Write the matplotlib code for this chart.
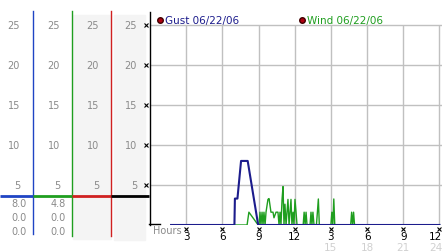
import matplotlib
matplotlib.use("Agg")
import matplotlib.pyplot as plt
import matplotlib.transforms as mtrans

# gust and wind, hours since midnight
gust_hr = [1.75, 7.0, 7.04, 7.25, 7.55, 8.1, 8.97, 24.0]
gust_val = [0, 0, 3.3, 3.3, 8.0, 8.0, 0, 0]

wind_hr = [1.75, 8.05, 8.2, 8.97, 9.04, 9.12, 9.2, 9.29, 9.37, 9.45, 9.54, 9.62,
           9.78, 9.87, 10.03, 10.2, 10.28, 10.45, 10.61, 10.7, 10.78, 10.86,
           10.95, 11.03, 11.11, 11.19, 11.28, 11.36, 11.44, 11.53, 11.61, 11.69,
           11.77, 11.86, 11.94, 12.02, 12.11, 12.19,
           12.7, 12.78, 12.86, 12.94, 13.02,
           13.27, 13.35, 13.43, 13.51, 13.6,
           13.8, 13.88, 13.96, 14.04,
           15.0, 15.08, 15.16, 15.24, 15.32,
           16.64, 16.72, 16.8, 16.88, 16.96, 24.0]
wind_val = [0, 0, 1.6, 0, 0, 1.6, 0, 1.6, 0, 1.6, 0, 1.6,
            3.2, 3.3, 1.6, 1.6, 0.9, 1.6, 1.6, 0, 1.6, 0,
            3.2, 4.8, 0, 2.6, 0, 1.6, 3.2, 0, 1.6, 3.2,
            0, 1.6, 0, 3.2, 1.6, 0,
            0, 1.6, 0, 1.6, 0,
            0, 1.6, 0, 1.6, 0,
            0, 1.6, 3.25, 0,
            0, 1.6, 0, 3.25, 0,
            0, 1.6, 0, 1.6, 0, 0]

yticks = [5, 10, 15, 20, 25]
hour_ticks = [3, 6, 9, 12, 15, 18, 21, 24]
hour_top = ['3', '6', '9', '12', '3', '6', '9', '12']
hour_bottom = ['', '', '', '', '15', '18', '21', '24']

col_right = [20, 60, 99, 137]          # right edge of each scale column
col_vals = [['8.0', '0.0', '0.0'], ['4.8', '0.0', '0.0']]

navy = '#1c1c8c'
green = '#1f9e1f'
blue = '#1f44c4'
red = '#d02020'
grey_txt = '#8a8a8a'
grid_c = '#c0c0c0'

plt.rcParams['font.family'] = 'DejaVu Sans'
plt.rcParams['font.size'] = 7

fig = plt.figure(figsize=(4.42, 2.53), dpi=100)

# pixel overlay for the left scale panel
bg = fig.add_axes([0, 0, 1, 1])
bg.set_xlim(0, 442)
bg.set_ylim(253, 0)
bg.axis('off')

ax = fig.add_axes([150 / 442, 27 / 253, 292 / 442, 213 / 253])
ax.set_xlim(0, 292 / 12.06)
ax.set_ylim(0, 26.6)
for s in ['top', 'right', 'bottom']:
    ax.spines[s].set_visible(False)
ax.spines['left'].set_linewidth(1)
ax.set_xticks([])
ax.set_yticks([])
ax.patch.set_alpha(0)

ax.hlines(yticks, 0, 292 / 12.06, color=grid_c, lw=1, zorder=1)
ax.vlines(hour_ticks, 0, 25, color=grid_c, lw=1, zorder=1)

ax.plot(wind_hr, wind_val, color=green, lw=1, zorder=3)
ax.plot(gust_hr, gust_val, color=navy, lw=1.5, zorder=4)

# shaded columns
bg.add_patch(plt.Rectangle((73, 16), 38, 224, color='#f4f4f4', zorder=0))
bg.add_patch(plt.Rectangle((114, 16), 31, 225, color='#f4f4f4', zorder=0))

# column dividers
bg.plot([33, 33], [12, 235], color=blue, lw=1)
bg.plot([72, 72], [12, 237], color=green, lw=1)
bg.plot([111, 111], [12, 237], color=red, lw=1)
bg.plot([0, 33], [197, 197], color=blue, lw=2, solid_capstyle='butt')
bg.plot([33, 72], [197, 197], color=green, lw=2, solid_capstyle='butt')
bg.plot([72, 111], [197, 197], color=red, lw=2, solid_capstyle='butt')
bg.plot([111, 149], [197, 197], color='black', lw=2, solid_capstyle='butt')
bg.plot([149, 160], [225, 225], color='black', lw=1)

ytr = mtrans.blended_transform_factory(bg.transData, ax.transData)
for xr in col_right:
    for v in yticks:
        bg.text(xr, v, str(v), transform=ytr, ha='right', va='center',
                color=grey_txt, fontsize=7)
for xr, vals in zip([27, 66], col_vals):
    for i, t in enumerate(vals):
        bg.text(xr, 204 + 14 * i, t, ha='right', va='center',
                color=grey_txt, fontsize=7)

# small x tick marks on the left spine
bg.plot([146] * len(yticks), yticks, 'x', transform=ytr, color='black',
        ms=2.5, mew=0.8)

xtr = mtrans.blended_transform_factory(ax.transData, bg.transData)
bg.plot(hour_ticks, [230] * len(hour_ticks), 'x', transform=xtr,
        color='black', ms=2.5, mew=0.8)
for h, t1, t2 in zip(hour_ticks, hour_top, hour_bottom):
    if h == hour_ticks[-1]:
        # last label sits against the right edge
        bg.text(442, 237, t1, ha='right', va='center', color='black', fontsize=7.5)
        bg.text(442, 248, t2, ha='right', va='center', color='#d0d0d0', fontsize=7.5)
        continue
    bg.text(h, 237, t1, transform=xtr, ha='center', va='center',
            color='black', fontsize=7.5)
    bg.text(h, 248, t2, transform=xtr, ha='center', va='center',
            color='#d0d0d0', fontsize=7.5)
bg.text(153, 231, 'Hours', ha='left', va='center', color=grey_txt, fontsize=7)

# legend
bg.plot([160, 302], [21, 21], 'o', color='#b00010', mec='#400000', ms=4,
        linestyle='none')
bg.text(165, 21, 'Gust 06/22/06', ha='left', va='center', color=navy,
        fontsize=7.5)
bg.text(307, 21, 'Wind 06/22/06', ha='left', va='center', color=green,
        fontsize=7.5)

fig.savefig('out.png', dpi=100)
